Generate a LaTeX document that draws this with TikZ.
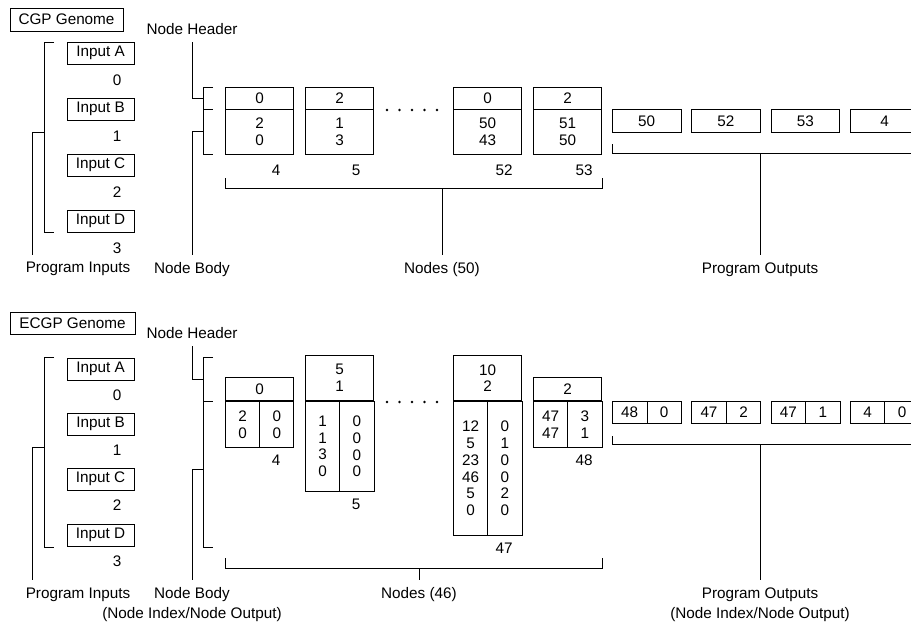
\documentclass[tikz,border=0pt]{standalone}
\usepackage{fontspec}
\setmainfont{Liberation Sans}
\newcommand\diafont{\fontsize{8.7}{9.5}\selectfont}
\newcommand\lblfont{\fontsize{8.7}{11.3}\selectfont}
\tikzset{
  box/.style={draw, inner sep=0pt, minimum height=0.44cm, font=\diafont},
  inbox/.style={box, minimum width=1.34cm},
  cell/.style={box, anchor=north west, minimum width=1.37cm, align=center},
  half/.style={box, anchor=north west, minimum width=0.685cm, align=center},
  txt/.style={inner sep=0pt, font=\diafont},
  lbl/.style={inner sep=4pt, align=center, font=\lblfont},
}
\begin{document}
\begin{tikzpicture}[x=0.02cm, y=-0.02cm, line width=0.5pt]
\clip (0,0) rectangle (911,627);

% ---------------- CGP genome ----------------
\node[box, minimum width=2.26cm, minimum height=0.46cm] (cgp) at (66.5,19.5) {CGP Genome};

\foreach \l/\py/\i in {A/53/0, B/109/1, C/165/2, D/221/3} {
  \node[inbox] (in\l) at (100.5,\py) {Input \l};
  \node[txt] (idx\i) at (117,\py+27) {\i};
}
\draw (54,42) -| (44,232) -- (54,232);
\node[lbl, anchor=north] (pin) at (78,255) {Program Inputs};
\draw (44,132) -| (32,255);

\node[lbl, anchor=south] (nh) at (192,42) {Node Header};
\draw (nh.south) |- (203,98);
\draw (213,87) -| (203,154) -- (213,154);
\draw (203,109) -- (213,109);
\node[lbl, anchor=north] (nb) at (192,255) {Node Body};
\draw (203,131) -| (nb.north);

\foreach \n/\px/\h/\a/\b in {4/225/0/2/0, 5/305/2/1/3, 52/453/0/50/43, 53/533/2/51/50} {
  \node[cell] (h\n) at (\px,87) {\h};
  \node[cell, minimum height=0.9cm] (b\n) at (\px,109) {\a\\\b};
  \node[txt] (l\n) at (\px+51,170) {\n};
}
\foreach \i in {0,...,4}
  \fill (387+12.5*\i,110) circle (1.4);

\draw (225,178) |- (602,188) -- (602,178);
\node[lbl, anchor=north] (nodes) at (442,255) {Nodes (50)};
\draw (442,188) -- (nodes.north);

\foreach \v [count=\k] in {50,52,53,4}
  \node[cell, minimum height=0.46cm] (o\k) at ({612+(\k-1)*79.3},109) {\v};
\draw (612,144) |- (920,153);
\node[lbl, anchor=north] (pout) at (760,255) {Program Outputs};
\draw (760,153) -- (pout.north);

% ---------------- ECGP genome ----------------
\node[box, minimum width=2.5cm] (ecgp) at (72.5,323) {ECGP Genome};

\foreach \l/\py/\i in {A/369/0, B/424/1, C/479/2, D/535/3} {
  \node[inbox] (ein\l) at (100.5,\py) {Input \l};
  \node[txt] (eidx\i) at (117,\py+26) {\i};
}
\draw (54,357) -| (44,547) -- (54,547);
\node[lbl, anchor=north] (epin) at (78,580) {Program Inputs};
\draw (44,447) -| (32,580);

\node[lbl, anchor=south] (enh) at (192,346) {Node Header};
\draw (enh.south) |- (203,379);
\draw (213,357) -| (203,547) -- (213,547);
\draw (203,401) -- (213,401);
\node[lbl, anchor=north] (enb) at (192,580) {Node Body\\(Node Index/Node Output)};
\draw (203,469) -| (enb.north);

\foreach \n/\px/\hh/\bh/\h/\a/\b in {
    4/225/0.46/0.92/0/{2\\0}/{0\\0},
    5/305/0.9/1.8/{5\\1}/{1\\1\\3\\0}/{0\\0\\0\\0},
    47/453/0.9/2.68/{10\\2}/{12\\5\\23\\46\\5\\0}/{0\\1\\0\\0\\2\\0},
    48/533/0.46/0.92/2/{47\\47}/{3\\1}} {
  \node[cell, anchor=south west, minimum height=\hh cm] (eh\n) at (\px,401) {\h};
  \node[half, minimum height=\bh cm] (el\n) at (\px,401) {\a};
  \node[half, minimum height=\bh cm] (er\n) at (\px+34.25,401) {\b};
  \node[txt] (elab\n) at (\px+51,414+\bh*50) {\n};
}
\foreach \i in {0,...,4}
  \fill (387+12.5*\i,402) circle (1.4);

\draw (225,558) |- (602,568) -- (602,558);
\node[lbl, anchor=north] (enodes) at (419,580) {Nodes (46)};
\draw (419,568) -- (enodes.north);

\foreach \a/\b [count=\k] in {48/0, 47/2, 47/1, 4/0} {
  \node[half, minimum width=0.69cm] (eoa\k) at ({612+(\k-1)*79.3},401) {\a};
  \node[half, minimum width=0.69cm] (eob\k) at ({646.5+(\k-1)*79.3},401) {\b};
}
\draw (612,436) |- (920,444);
\node[lbl, anchor=north] (epout) at (760,580) {Program Outputs\\(Node Index/Node Output)};
\draw (760,444) -- (epout.north);
\end{tikzpicture}
\end{document}
